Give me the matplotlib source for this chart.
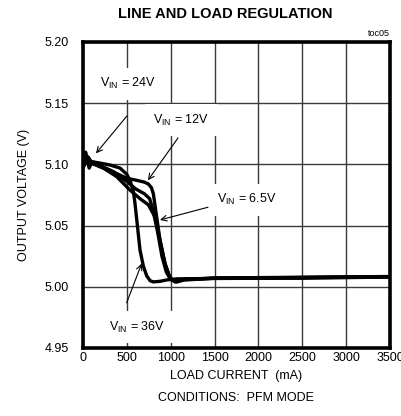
import matplotlib
matplotlib.use("Agg")
import matplotlib.pyplot as plt

FONT = ['Liberation Sans', 'DejaVu Sans']
plt.rcParams['font.family'] = FONT
plt.rcParams['mathtext.fontset'] = 'custom'
plt.rcParams['mathtext.rm'] = 'Liberation Sans'
plt.rcParams['mathtext.it'] = 'Liberation Sans'

# ---- data (load current in mA, output voltage in V) ----
tail_x = [1500, 2000, 2500, 3000, 3500]

x_36 = [0, 15, 30, 50, 70, 90, 120, 200, 308, 422, 498, 536, 574, 593, 620, 650, 688, 726, 765, 802, 880, 954, 1068]
v_36 = [5.100, 5.106, 5.110, 5.104, 5.097, 5.100, 5.102, 5.101, 5.0995, 5.097, 5.092, 5.087, 5.078, 5.068, 5.050,
        5.030, 5.017, 5.009, 5.005, 5.004, 5.0045, 5.0056, 5.0065]
t_36 = [5.0068, 5.007, 5.007, 5.0075, 5.008]

x_24 = [0, 30, 80, 200, 350, 500, 600, 700, 760, 800, 850, 900, 950, 1000, 1060, 1150]
v_24 = [5.099, 5.108, 5.103, 5.099, 5.094, 5.086, 5.080, 5.076, 5.072, 5.062, 5.045, 5.025, 5.012, 5.006, 5.004, 5.006]
t_24 = [5.007, 5.0072, 5.0075, 5.0078, 5.0082]

x_12 = [0, 30, 60, 100, 200, 300, 400, 498, 612, 700, 745, 780, 802, 840, 878, 935, 980, 1011, 1068, 1150]
v_12 = [5.098, 5.104, 5.106, 5.101, 5.098, 5.095, 5.092, 5.0887, 5.087, 5.0855, 5.084, 5.081, 5.076, 5.057,
        5.038, 5.019, 5.010, 5.006, 5.004, 5.0055]
t_12 = [5.007, 5.0073, 5.0076, 5.008, 5.0083]

x_65 = [0, 40, 100, 232, 384, 536, 650, 745, 821, 878, 935, 990, 1050, 1150]
v_65 = [5.097, 5.103, 5.101, 5.097, 5.090, 5.079, 5.072, 5.067, 5.057, 5.038, 5.019, 5.007, 5.004, 5.006]
t_65 = [5.0072, 5.0075, 5.0078, 5.0081, 5.0084]

x_ticks = [0, 500, 1000, 1500, 2000, 2500, 3000, 3500]
y_ticks = [4.95, 5.00, 5.05, 5.10, 5.15, 5.20]

fig = plt.figure(figsize=(4.01, 4.16), dpi=100)
ax = fig.add_axes([83/401, 1-348/416, 307/401, 306/416])

for xs, vs, tv in [(x_65, v_65, t_65), (x_12, v_12, t_12), (x_24, v_24, t_24), (x_36, v_36, t_36)]:
    ax.plot(list(xs) + tail_x, list(vs) + tv, color='black', lw=2.4,
            solid_joinstyle='round', solid_capstyle='round', zorder=3)

ax.set_xlim(0, 3500)
ax.set_ylim(4.95, 5.20)
ax.set_xticks(x_ticks)
ax.set_yticks(y_ticks)
ax.set_xticklabels([str(t) for t in x_ticks])
ax.set_yticklabels([f"{t:.2f}" for t in y_ticks])
ax.tick_params(axis='x', length=0, labelsize=9, pad=3)
ax.tick_params(axis='y', length=0, labelsize=9, pad=10)
ax.grid(True, color='#3a3a3a', lw=1.0, zorder=1)
for s in ax.spines.values():
    s.set_linewidth(2.6)
    s.set_zorder(5)

ax.set_xlabel('LOAD CURRENT  (mA)', fontsize=9, labelpad=4)
ax.set_ylabel('OUTPUT VOLTAGE (V)', fontsize=9, labelpad=11)
fig.text(236/401, 1-398/416, 'CONDITIONS:  PFM MODE', fontsize=9, ha='center', va='center')
fig.text(225/401, 1-14/416, 'LINE AND LOAD REGULATION', fontsize=10.5, fontweight='bold',
         ha='center', va='center')
ax.text(1.0, 1.012, 'toc05', transform=ax.transAxes, fontsize=6.5, ha='right', va='bottom')

box = dict(facecolor='white', edgecolor='none', pad=6)
arrow = dict(arrowstyle='->', color='black', lw=0.8, shrinkA=0, shrinkB=0)
ann = [
    (r'V$_{\mathregular{IN}}$ = 24V', (148, 5.109), (513, 5.166), (500, 5.1395)),
    (r'V$_{\mathregular{IN}}$ = 12V', (740, 5.087), (1117, 5.136), (1083, 5.1216)),
    (r'V$_{\mathregular{IN}}$ = 6.5V', (878, 5.0546), (1870, 5.071), (1425, 5.065)),
    (r'V$_{\mathregular{IN}}$ = 36V', (669, 5.019), (615, 4.967), (498, 4.987)),
]
for label, head, textpos, tail in ann:
    ax.text(textpos[0], textpos[1], label, fontsize=9, ha='center', va='center', bbox=box, zorder=4)
    ax.annotate('', xy=head, xytext=tail, arrowprops=arrow, zorder=4)

fig.savefig('out.png', dpi=100)
